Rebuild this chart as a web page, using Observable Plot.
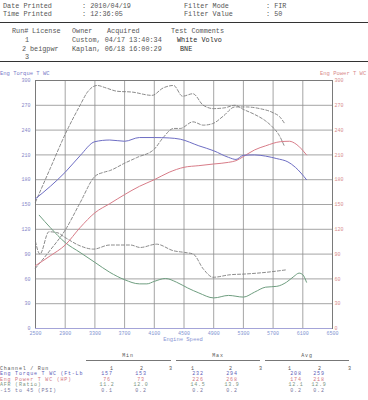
<!DOCTYPE html>
<html><head><meta charset="utf-8">
<script src="https://cdn.jsdelivr.net/npm/d3@7"></script>
<script src="https://cdn.jsdelivr.net/npm/@observablehq/plot@0.6"></script>
<style>
html,body{margin:0;padding:0;background:#fff;}
body{width:368px;height:400px;position:relative;overflow:hidden;font-family:"Liberation Mono","DejaVu Sans Mono",monospace;}
.t{position:absolute;white-space:pre;line-height:1;}
.hr{position:absolute;}
#chart{position:absolute;left:0;top:65px;}
</style></head><body>
<div id="chart"></div>
<script>
// ---- data ----
const xTicks = [2500,2900,3300,3700,4100,4500,4900,5300,5700,6100,6500];
const yTicks = [0,30,60,90,120,150,180,210,240,270,300];

const tq1Rpm = [2500,2700,2900,3100,3300,3500,3700,3900,4100,4300,4450,4700,4900,5100,5200,5300,5450,5600,5750,5900,6000,6150];
const tq1    = [157,172,189,209,226,228,226.5,231,231,230.5,229,221,215,207,204.5,209.5,210,208.5,205.5,201.5,195,180];

const pw1Rpm = [2500,2700,2900,3100,3300,3500,3700,3900,4100,4300,4500,4700,4900,5100,5200,5300,5450,5600,5800,5920,6010,6150];
const pw1    = [76,88,101,122,140,151,162,172,180,189,195,197,199,201,203,208,216,221,226,226.5,223,210];

const afr1Rpm = [2550,2700,2900,3100,3300,3500,3700,3900,4000,4100,4250,4400,4550,4700,4900,5100,5300,5450,5600,5750,5880,5980,6050,6100,6150];
const afr1    = [137,122,104,92,80,68,59,54,54,57,60.5,56,49,43,37,40,38,44,50,51,56,63,67,65,56];

const tq2Rpm = [2500,2700,2900,3100,3200,3330,3450,3600,3800,4070,4220,4360,4480,4620,4760,4900,5050,5185,5300,5450,5600,5700,5780,5850];
const tq2    = [153,194,235,270,286,294,291,287,286,282,291,294,281,284,270,266,267,270,265,259,251,243,234,221];

const pw2Rpm = [2500,2700,2900,3100,3300,3420,3500,3700,3870,4100,4220,4360,4450,4620,4760,4890,5030,5185,5340,5520,5700,5790,5855];
const pw2    = [73,95,119,152,184,189,191,200,207,217,231,242,242,250,246,248,257,268,268,266,261,256,248];

const afr2Rpm = [2500,2560,2680,2790,2900,3100,3280,3500,3780,3910,4130,4360,4510,4625,4760,4893,5120,5340,5610,5880];
const afr2    = [105,90,117,116,110,100,96,101,101,98,102,94,92,90,72,62,65,66,68,71];

const headerRows = [
  ["Date Printed", ": 2010/04/19", "Filter Mode", ": FIR"],
  ["Time Printed", ": 12:36:05", "Filter Value", ": 50"]
];
const runHeader = ["Run#", "License", "Owner", "Acquired", "Test Comments"];
const runs = [
  ["1", "", "Custom, 04/17 13:40:34", "White Volvo"],
  ["2", "beigpwr", "Kaplan, 06/18 16:00:29", "BNE"],
  ["3", "", "", ""]
];
const statGroups = ["Min", "Max", "Avg"];
const runNumbers = ["1","2","3","1","2","3","1","2","3"];
const channels = ["Eng Torque T WC (Ft-Lb", "Eng Power T WC (HP)", "AFR (Ratio)", "-15 to 45 (PSI)"];
const statTorque = ["157","153","232","294","208","259"];
const statPower  = ["76","73","226","268","174","218"];
const statAfr    = ["11.2","12.0","14.5","13.9","12.1","12.9"];
const statPsi    = ["0.1","0.2","0.2","0.2","0.2","0.2"];

// ---- chart ----
const C = {tq:"#6e6ec4", pw:"#d87c88", afr:"#6f9e80", run2:"#7d7d7d"};
const solid = {curve:"monotone-x", strokeWidth:1};
const dashed = {curve:"monotone-x", strokeWidth:0.9, stroke:C.run2, strokeDasharray:"3,2"};

const chart = Plot.plot({
  width: 368, height: 285,
  marginTop: 15, marginBottom: 22, marginLeft: 35, marginRight: 36,
  style: {fontSize:"5px", fontFamily:"Liberation Mono, monospace", background:"transparent", overflow:"visible"},
  x: {domain:[2500,6500], axis:null},
  y: {domain:[0,300], axis:null},
  marks: [
    Plot.gridX(xTicks, {stroke:"#8e8e8e", strokeOpacity:1, strokeWidth:0.8}),
    Plot.gridY(yTicks, {stroke:"#8e8e8e", strokeOpacity:1, strokeWidth:0.8}),
    Plot.frame({stroke:"#7a7a7a"}),
    Plot.ruleY([0], {stroke:"#a4a4d8"}),
    Plot.axisX(xTicks, {tickSize:0, tickPadding:3, color:"#8294d2", tickFormat:d=>String(d), label:null, fontSize:5}),
    Plot.axisY(yTicks, {anchor:"left", tickSize:0, tickPadding:5, color:"#8686c8", label:null, fontSize:5}),
    Plot.axisY(yTicks, {anchor:"right", tickSize:0, tickPadding:2, color:"#d88c8c", label:null, fontSize:5}),
    Plot.line(tq2, {x:tq2Rpm, y:tq2, ...dashed}),
    Plot.line(pw2, {x:pw2Rpm, y:pw2, ...dashed}),
    Plot.line(afr2, {x:afr2Rpm, y:afr2, ...dashed}),
    Plot.line(afr1, {x:afr1Rpm, y:afr1, stroke:C.afr, ...solid}),
    Plot.line(pw1, {x:pw1Rpm, y:pw1, stroke:C.pw, ...solid}),
    Plot.line(tq1, {x:tq1Rpm, y:tq1, stroke:C.tq, ...solid})
  ]
});
document.getElementById("chart").appendChild(chart);

// ---- text helpers ----
function T(str, x, y, size, color, anchor, spacing) {
  const d = document.createElement("div");
  d.className = "t";
  d.textContent = str;
  d.style.left = x + "px";
  d.style.top = (y - size * 0.55) + "px";
  d.style.fontSize = size + "px";
  d.style.color = color;
  if (spacing) d.style.letterSpacing = spacing + "px";
  if (anchor === "middle") d.style.transform = "translateX(-50%)";
  if (anchor === "end") d.style.transform = "translateX(-100%)";
  document.body.appendChild(d);
}
function HR(x1, x2, y, th, color) {
  const d = document.createElement("div");
  d.className = "hr";
  d.style.left = x1 + "px"; d.style.width = (x2 - x1) + "px";
  d.style.top = (y - th / 2) + "px"; d.style.height = th + "px";
  d.style.background = color;
  document.body.appendChild(d);
}

// header
const HS = 6.8, HC = "#555";
const hx = [3, 82, 184, 266];
headerRows.forEach((row, r) => row.forEach((s, i) => T(s, hx[i], 6.7 + r * 8, HS, HC)));
HR(0, 368, 22.7, 1.6, "#333");
const rhx = [12, 32, 72, 107, 171];
runHeader.forEach((s, i) => T(s, rhx[i], 31.7, HS, HC));
const ry = [41.2, 49.5, 57.5];
runs.forEach((r, i) => {
  T(r[0], i === 1 ? 22 : 25, ry[i], HS, HC);
  if (r[1]) T(r[1], 30, ry[i], HS, HC);
  if (r[2]) T(r[2], 72, ry[i], HS, HC);
  if (r[3]) T(r[3], i === 0 ? 177 : 180, ry[i], HS, "#2a2a2a");
});
HR(0, 368, 61.7, 1.6, "#333");

// chart labels
T("Eng Torque T WC", 0, 74.3, 5.5, "#7a7ac8");
T("Eng Power T WC", 320, 74, 5.5, "#d88a8a");
T("Engine Speed", 183, 340, 5.5, "#8a96d4", "middle");

// stats table
const TS = 5, LS = 0.78;
const gx = [128, 218, 307];
const gl = [[86,171],[176,260],[265,349]];
statGroups.forEach((g, i) => { T(g, gx[i], 356.7, TS, "#555", "middle", LS); HR(gl[i][0], gl[i][1], 360.3, 1, "#777"); });
const rowY = [369.5, 375, 380.5, 386, 391.5];
T("Channel / Run", 0, rowY[0], TS, "#555", null, LS);
const nx = [112,142,171,193,231,261,290,320,350];
runNumbers.forEach((s, i) => T(s, nx[i], rowY[0], TS, "#555", "middle", LS));
const rowColors = ["#5c5cb8", "#d27482", "#7a9482", "#7878a0"];
const stats = [statTorque, statPower, statAfr, statPsi];
const vx = [107,141,198,232,296,319];
channels.forEach((c, r) => {
  T(c, 0, rowY[r + 1], TS, rowColors[r], null, LS);
  stats[r].forEach((v, i) => T(v, vx[i], rowY[r + 1], TS, rowColors[r], "middle", LS));
});
</script>
</body></html>
